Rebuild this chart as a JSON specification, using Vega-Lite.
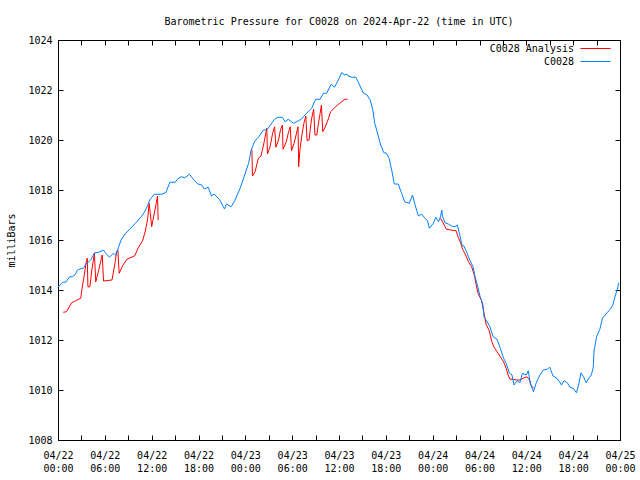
{
  "$schema": "https://vega.github.io/schema/vega-lite/v6.json",
  "width": 562,
  "height": 400,
  "autosize": "none",
  "padding": {"left": 58, "top": 40, "right": 20, "bottom": 40},
  "background": "white",
  "title": {"text": "Barometric Pressure for C0028 on 2024-Apr-22 (time in UTC)", "anchor": "middle", "frame": "group", "font": "DejaVu Sans Mono", "fontSize": 10, "fontWeight": "normal", "color": "black", "baseline": "alphabetic", "offset": 0},
  "config": {
    "view": {"stroke": "black", "strokeWidth": 1},
    "axis": {"grid": false, "domainColor": "black", "tickColor": "black", "labelColor": "black", "titleColor": "black", "labelFont": "DejaVu Sans Mono", "labelFontSize": 10, "titleFont": "DejaVu Sans Mono", "titleFontSize": 10, "titleFontWeight": "normal", "tickSize": -5, "tickWidth": 1, "domainWidth": 1},
    "legend": {"labelFont": "DejaVu Sans Mono", "labelFontSize": 10, "labelColor": "black"}
  },
  "data": {"values": [
    {"t":"2024-04-22T00:40:00Z","p":1013.11,"s":"C0028 Analysis","g":"a1"},
    {"t":"2024-04-22T01:05:00Z","p":1013.13,"s":"C0028 Analysis","g":"a1"},
    {"t":"2024-04-22T01:45:00Z","p":1013.49,"s":"C0028 Analysis","g":"a1"},
    {"t":"2024-04-22T02:15:00Z","p":1013.57,"s":"C0028 Analysis","g":"a1"},
    {"t":"2024-04-22T02:55:00Z","p":1013.67,"s":"C0028 Analysis","g":"a1"},
    {"t":"2024-04-22T03:05:00Z","p":1014.07,"s":"C0028 Analysis","g":"a1"},
    {"t":"2024-04-22T03:20:00Z","p":1014.53,"s":"C0028 Analysis","g":"a1"},
    {"t":"2024-04-22T03:35:00Z","p":1015.07,"s":"C0028 Analysis","g":"a1"},
    {"t":"2024-04-22T03:45:00Z","p":1015.27,"s":"C0028 Analysis","g":"a1"},
    {"t":"2024-04-22T03:50:00Z","p":1014.13,"s":"C0028 Analysis","g":"a1"},
    {"t":"2024-04-22T04:05:00Z","p":1014.13,"s":"C0028 Analysis","g":"a1"},
    {"t":"2024-04-22T04:20:00Z","p":1014.80,"s":"C0028 Analysis","g":"a1"},
    {"t":"2024-04-22T04:30:00Z","p":1015.13,"s":"C0028 Analysis","g":"a1"},
    {"t":"2024-04-22T04:40:00Z","p":1015.47,"s":"C0028 Analysis","g":"a1"},
    {"t":"2024-04-22T04:50:00Z","p":1014.33,"s":"C0028 Analysis","g":"a1"},
    {"t":"2024-04-22T05:10:00Z","p":1014.73,"s":"C0028 Analysis","g":"a1"},
    {"t":"2024-04-22T05:25:00Z","p":1015.07,"s":"C0028 Analysis","g":"a1"},
    {"t":"2024-04-22T05:40:00Z","p":1015.40,"s":"C0028 Analysis","g":"a1"},
    {"t":"2024-04-22T05:50:00Z","p":1014.36,"s":"C0028 Analysis","g":"a1"},
    {"t":"2024-04-22T06:55:00Z","p":1014.40,"s":"C0028 Analysis","g":"a1"},
    {"t":"2024-04-22T07:20:00Z","p":1015.13,"s":"C0028 Analysis","g":"a1"},
    {"t":"2024-04-22T07:30:00Z","p":1015.53,"s":"C0028 Analysis","g":"a1"},
    {"t":"2024-04-22T07:40:00Z","p":1015.60,"s":"C0028 Analysis","g":"a1"},
    {"t":"2024-04-22T07:50:00Z","p":1014.67,"s":"C0028 Analysis","g":"a1"},
    {"t":"2024-04-22T08:20:00Z","p":1015.00,"s":"C0028 Analysis","g":"a1"},
    {"t":"2024-04-22T08:50:00Z","p":1015.23,"s":"C0028 Analysis","g":"a1"},
    {"t":"2024-04-22T09:50:00Z","p":1015.37,"s":"C0028 Analysis","g":"a1"},
    {"t":"2024-04-22T10:15:00Z","p":1015.67,"s":"C0028 Analysis","g":"a1"},
    {"t":"2024-04-22T10:50:00Z","p":1015.97,"s":"C0028 Analysis","g":"a1"},
    {"t":"2024-04-22T11:10:00Z","p":1016.33,"s":"C0028 Analysis","g":"a1"},
    {"t":"2024-04-22T11:30:00Z","p":1016.87,"s":"C0028 Analysis","g":"a1"},
    {"t":"2024-04-22T11:40:00Z","p":1017.47,"s":"C0028 Analysis","g":"a1"},
    {"t":"2024-04-22T11:55:00Z","p":1016.80,"s":"C0028 Analysis","g":"a1"},
    {"t":"2024-04-22T12:00:00Z","p":1016.53,"s":"C0028 Analysis","g":"a1"},
    {"t":"2024-04-22T12:15:00Z","p":1016.93,"s":"C0028 Analysis","g":"a1"},
    {"t":"2024-04-22T12:35:00Z","p":1017.47,"s":"C0028 Analysis","g":"a1"},
    {"t":"2024-04-22T12:45:00Z","p":1017.76,"s":"C0028 Analysis","g":"a1"},
    {"t":"2024-04-22T12:50:00Z","p":1016.80,"s":"C0028 Analysis","g":"a1"},
    {"t":"2024-04-23T00:50:00Z","p":1019.63,"s":"C0028 Analysis","g":"a2"},
    {"t":"2024-04-23T00:55:00Z","p":1018.56,"s":"C0028 Analysis","g":"a2"},
    {"t":"2024-04-23T01:15:00Z","p":1018.73,"s":"C0028 Analysis","g":"a2"},
    {"t":"2024-04-23T01:40:00Z","p":1019.27,"s":"C0028 Analysis","g":"a2"},
    {"t":"2024-04-23T02:00:00Z","p":1019.36,"s":"C0028 Analysis","g":"a2"},
    {"t":"2024-04-23T02:20:00Z","p":1019.80,"s":"C0028 Analysis","g":"a2"},
    {"t":"2024-04-23T02:40:00Z","p":1020.33,"s":"C0028 Analysis","g":"a2"},
    {"t":"2024-04-23T02:45:00Z","p":1020.47,"s":"C0028 Analysis","g":"a2"},
    {"t":"2024-04-23T02:50:00Z","p":1019.44,"s":"C0028 Analysis","g":"a2"},
    {"t":"2024-04-23T03:10:00Z","p":1019.73,"s":"C0028 Analysis","g":"a2"},
    {"t":"2024-04-23T03:30:00Z","p":1020.27,"s":"C0028 Analysis","g":"a2"},
    {"t":"2024-04-23T03:45:00Z","p":1020.53,"s":"C0028 Analysis","g":"a2"},
    {"t":"2024-04-23T03:55:00Z","p":1019.71,"s":"C0028 Analysis","g":"a2"},
    {"t":"2024-04-23T04:15:00Z","p":1020.00,"s":"C0028 Analysis","g":"a2"},
    {"t":"2024-04-23T04:30:00Z","p":1020.40,"s":"C0028 Analysis","g":"a2"},
    {"t":"2024-04-23T04:45:00Z","p":1020.60,"s":"C0028 Analysis","g":"a2"},
    {"t":"2024-04-23T04:50:00Z","p":1019.63,"s":"C0028 Analysis","g":"a2"},
    {"t":"2024-04-23T05:15:00Z","p":1019.93,"s":"C0028 Analysis","g":"a2"},
    {"t":"2024-04-23T05:30:00Z","p":1020.27,"s":"C0028 Analysis","g":"a2"},
    {"t":"2024-04-23T05:45:00Z","p":1020.53,"s":"C0028 Analysis","g":"a2"},
    {"t":"2024-04-23T05:55:00Z","p":1019.57,"s":"C0028 Analysis","g":"a2"},
    {"t":"2024-04-23T06:15:00Z","p":1019.87,"s":"C0028 Analysis","g":"a2"},
    {"t":"2024-04-23T06:30:00Z","p":1020.20,"s":"C0028 Analysis","g":"a2"},
    {"t":"2024-04-23T06:45:00Z","p":1020.53,"s":"C0028 Analysis","g":"a2"},
    {"t":"2024-04-23T06:50:00Z","p":1018.93,"s":"C0028 Analysis","g":"a2"},
    {"t":"2024-04-23T07:00:00Z","p":1019.63,"s":"C0028 Analysis","g":"a2"},
    {"t":"2024-04-23T07:15:00Z","p":1020.20,"s":"C0028 Analysis","g":"a2"},
    {"t":"2024-04-23T07:30:00Z","p":1020.67,"s":"C0028 Analysis","g":"a2"},
    {"t":"2024-04-23T07:45:00Z","p":1020.96,"s":"C0028 Analysis","g":"a2"},
    {"t":"2024-04-23T07:55:00Z","p":1019.97,"s":"C0028 Analysis","g":"a2"},
    {"t":"2024-04-23T08:10:00Z","p":1020.00,"s":"C0028 Analysis","g":"a2"},
    {"t":"2024-04-23T08:20:00Z","p":1020.47,"s":"C0028 Analysis","g":"a2"},
    {"t":"2024-04-23T08:30:00Z","p":1020.87,"s":"C0028 Analysis","g":"a2"},
    {"t":"2024-04-23T08:45:00Z","p":1021.23,"s":"C0028 Analysis","g":"a2"},
    {"t":"2024-04-23T08:55:00Z","p":1020.20,"s":"C0028 Analysis","g":"a2"},
    {"t":"2024-04-23T09:10:00Z","p":1020.20,"s":"C0028 Analysis","g":"a2"},
    {"t":"2024-04-23T09:20:00Z","p":1020.60,"s":"C0028 Analysis","g":"a2"},
    {"t":"2024-04-23T09:35:00Z","p":1021.07,"s":"C0028 Analysis","g":"a2"},
    {"t":"2024-04-23T09:45:00Z","p":1021.40,"s":"C0028 Analysis","g":"a2"},
    {"t":"2024-04-23T09:55:00Z","p":1020.33,"s":"C0028 Analysis","g":"a2"},
    {"t":"2024-04-23T10:15:00Z","p":1020.53,"s":"C0028 Analysis","g":"a2"},
    {"t":"2024-04-23T10:40:00Z","p":1020.87,"s":"C0028 Analysis","g":"a2"},
    {"t":"2024-04-23T10:55:00Z","p":1021.13,"s":"C0028 Analysis","g":"a2"},
    {"t":"2024-04-23T11:30:00Z","p":1021.31,"s":"C0028 Analysis","g":"a2"},
    {"t":"2024-04-23T12:10:00Z","p":1021.49,"s":"C0028 Analysis","g":"a2"},
    {"t":"2024-04-23T12:45:00Z","p":1021.63,"s":"C0028 Analysis","g":"a2"},
    {"t":"2024-04-23T13:05:00Z","p":1021.63,"s":"C0028 Analysis","g":"a2"},
    {"t":"2024-04-24T01:00:00Z","p":1016.87,"s":"C0028 Analysis","g":"a3"},
    {"t":"2024-04-24T01:25:00Z","p":1016.64,"s":"C0028 Analysis","g":"a3"},
    {"t":"2024-04-24T01:45:00Z","p":1016.43,"s":"C0028 Analysis","g":"a3"},
    {"t":"2024-04-24T02:20:00Z","p":1016.40,"s":"C0028 Analysis","g":"a3"},
    {"t":"2024-04-24T03:00:00Z","p":1016.37,"s":"C0028 Analysis","g":"a3"},
    {"t":"2024-04-24T03:15:00Z","p":1016.13,"s":"C0028 Analysis","g":"a3"},
    {"t":"2024-04-24T03:35:00Z","p":1015.89,"s":"C0028 Analysis","g":"a3"},
    {"t":"2024-04-24T03:50:00Z","p":1015.63,"s":"C0028 Analysis","g":"a3"},
    {"t":"2024-04-24T04:10:00Z","p":1015.44,"s":"C0028 Analysis","g":"a3"},
    {"t":"2024-04-24T04:35:00Z","p":1015.13,"s":"C0028 Analysis","g":"a3"},
    {"t":"2024-04-24T05:00:00Z","p":1014.93,"s":"C0028 Analysis","g":"a3"},
    {"t":"2024-04-24T05:20:00Z","p":1014.60,"s":"C0028 Analysis","g":"a3"},
    {"t":"2024-04-24T05:35:00Z","p":1014.20,"s":"C0028 Analysis","g":"a3"},
    {"t":"2024-04-24T05:50:00Z","p":1013.84,"s":"C0028 Analysis","g":"a3"},
    {"t":"2024-04-24T06:15:00Z","p":1013.60,"s":"C0028 Analysis","g":"a3"},
    {"t":"2024-04-24T06:35:00Z","p":1013.07,"s":"C0028 Analysis","g":"a3"},
    {"t":"2024-04-24T06:50:00Z","p":1012.64,"s":"C0028 Analysis","g":"a3"},
    {"t":"2024-04-24T07:15:00Z","p":1012.37,"s":"C0028 Analysis","g":"a3"},
    {"t":"2024-04-24T07:35:00Z","p":1011.93,"s":"C0028 Analysis","g":"a3"},
    {"t":"2024-04-24T07:50:00Z","p":1011.73,"s":"C0028 Analysis","g":"a3"},
    {"t":"2024-04-24T08:15:00Z","p":1011.53,"s":"C0028 Analysis","g":"a3"},
    {"t":"2024-04-24T08:40:00Z","p":1011.33,"s":"C0028 Analysis","g":"a3"},
    {"t":"2024-04-24T09:05:00Z","p":1011.13,"s":"C0028 Analysis","g":"a3"},
    {"t":"2024-04-24T09:25:00Z","p":1010.87,"s":"C0028 Analysis","g":"a3"},
    {"t":"2024-04-24T09:40:00Z","p":1010.60,"s":"C0028 Analysis","g":"a3"},
    {"t":"2024-04-24T09:55:00Z","p":1010.43,"s":"C0028 Analysis","g":"a3"},
    {"t":"2024-04-24T10:20:00Z","p":1010.43,"s":"C0028 Analysis","g":"a3"},
    {"t":"2024-04-24T10:45:00Z","p":1010.40,"s":"C0028 Analysis","g":"a3"},
    {"t":"2024-04-24T11:10:00Z","p":1010.40,"s":"C0028 Analysis","g":"a3"},
    {"t":"2024-04-24T11:35:00Z","p":1010.47,"s":"C0028 Analysis","g":"a3"},
    {"t":"2024-04-24T12:05:00Z","p":1010.53,"s":"C0028 Analysis","g":"a3"},
    {"t":"2024-04-24T12:25:00Z","p":1010.40,"s":"C0028 Analysis","g":"a3"},
    {"t":"2024-04-24T12:35:00Z","p":1010.20,"s":"C0028 Analysis","g":"a3"},
    {"t":"2024-04-24T12:55:00Z","p":1010.07,"s":"C0028 Analysis","g":"a3"},
    {"t":"2024-04-22T00:00:00Z","p":1014.11,"s":"C0028","g":"b"},
    {"t":"2024-04-22T00:35:00Z","p":1014.31,"s":"C0028","g":"b"},
    {"t":"2024-04-22T01:00:00Z","p":1014.31,"s":"C0028","g":"b"},
    {"t":"2024-04-22T01:30:00Z","p":1014.53,"s":"C0028","g":"b"},
    {"t":"2024-04-22T01:50:00Z","p":1014.53,"s":"C0028","g":"b"},
    {"t":"2024-04-22T02:10:00Z","p":1014.60,"s":"C0028","g":"b"},
    {"t":"2024-04-22T02:30:00Z","p":1014.80,"s":"C0028","g":"b"},
    {"t":"2024-04-22T02:55:00Z","p":1014.85,"s":"C0028","g":"b"},
    {"t":"2024-04-22T03:15:00Z","p":1014.87,"s":"C0028","g":"b"},
    {"t":"2024-04-22T03:35:00Z","p":1015.04,"s":"C0028","g":"b"},
    {"t":"2024-04-22T03:55:00Z","p":1015.12,"s":"C0028","g":"b"},
    {"t":"2024-04-22T04:15:00Z","p":1015.23,"s":"C0028","g":"b"},
    {"t":"2024-04-22T04:40:00Z","p":1015.49,"s":"C0028","g":"b"},
    {"t":"2024-04-22T05:10:00Z","p":1015.51,"s":"C0028","g":"b"},
    {"t":"2024-04-22T05:50:00Z","p":1015.59,"s":"C0028","g":"b"},
    {"t":"2024-04-22T06:05:00Z","p":1015.49,"s":"C0028","g":"b"},
    {"t":"2024-04-22T06:35:00Z","p":1015.31,"s":"C0028","g":"b"},
    {"t":"2024-04-22T07:05:00Z","p":1015.47,"s":"C0028","g":"b"},
    {"t":"2024-04-22T07:25:00Z","p":1015.39,"s":"C0028","g":"b"},
    {"t":"2024-04-22T07:45:00Z","p":1015.71,"s":"C0028","g":"b"},
    {"t":"2024-04-22T08:05:00Z","p":1016.00,"s":"C0028","g":"b"},
    {"t":"2024-04-22T08:35:00Z","p":1016.24,"s":"C0028","g":"b"},
    {"t":"2024-04-22T09:05:00Z","p":1016.40,"s":"C0028","g":"b"},
    {"t":"2024-04-22T09:30:00Z","p":1016.53,"s":"C0028","g":"b"},
    {"t":"2024-04-22T09:55:00Z","p":1016.67,"s":"C0028","g":"b"},
    {"t":"2024-04-22T10:40:00Z","p":1016.93,"s":"C0028","g":"b"},
    {"t":"2024-04-22T11:05:00Z","p":1017.12,"s":"C0028","g":"b"},
    {"t":"2024-04-22T11:30:00Z","p":1017.39,"s":"C0028","g":"b"},
    {"t":"2024-04-22T11:45:00Z","p":1017.60,"s":"C0028","g":"b"},
    {"t":"2024-04-22T12:20:00Z","p":1017.83,"s":"C0028","g":"b"},
    {"t":"2024-04-22T13:20:00Z","p":1017.83,"s":"C0028","g":"b"},
    {"t":"2024-04-22T13:50:00Z","p":1017.91,"s":"C0028","g":"b"},
    {"t":"2024-04-22T14:20:00Z","p":1018.31,"s":"C0028","g":"b"},
    {"t":"2024-04-22T15:00:00Z","p":1018.31,"s":"C0028","g":"b"},
    {"t":"2024-04-22T15:25:00Z","p":1018.47,"s":"C0028","g":"b"},
    {"t":"2024-04-22T15:50:00Z","p":1018.53,"s":"C0028","g":"b"},
    {"t":"2024-04-22T16:15:00Z","p":1018.49,"s":"C0028","g":"b"},
    {"t":"2024-04-22T16:50:00Z","p":1018.63,"s":"C0028","g":"b"},
    {"t":"2024-04-22T17:30:00Z","p":1018.37,"s":"C0028","g":"b"},
    {"t":"2024-04-22T17:55:00Z","p":1018.24,"s":"C0028","g":"b"},
    {"t":"2024-04-22T18:25:00Z","p":1018.20,"s":"C0028","g":"b"},
    {"t":"2024-04-22T18:45:00Z","p":1018.04,"s":"C0028","g":"b"},
    {"t":"2024-04-22T19:15:00Z","p":1018.11,"s":"C0028","g":"b"},
    {"t":"2024-04-22T19:40:00Z","p":1017.76,"s":"C0028","g":"b"},
    {"t":"2024-04-22T20:00:00Z","p":1017.84,"s":"C0028","g":"b"},
    {"t":"2024-04-22T20:40:00Z","p":1017.63,"s":"C0028","g":"b"},
    {"t":"2024-04-22T21:20:00Z","p":1017.24,"s":"C0028","g":"b"},
    {"t":"2024-04-22T21:35:00Z","p":1017.44,"s":"C0028","g":"b"},
    {"t":"2024-04-22T22:10:00Z","p":1017.33,"s":"C0028","g":"b"},
    {"t":"2024-04-22T22:35:00Z","p":1017.53,"s":"C0028","g":"b"},
    {"t":"2024-04-22T23:20:00Z","p":1018.07,"s":"C0028","g":"b"},
    {"t":"2024-04-22T23:55:00Z","p":1018.60,"s":"C0028","g":"b"},
    {"t":"2024-04-23T00:25:00Z","p":1019.07,"s":"C0028","g":"b"},
    {"t":"2024-04-23T00:45:00Z","p":1019.60,"s":"C0028","g":"b"},
    {"t":"2024-04-23T01:10:00Z","p":1019.93,"s":"C0028","g":"b"},
    {"t":"2024-04-23T01:40:00Z","p":1020.11,"s":"C0028","g":"b"},
    {"t":"2024-04-23T02:20:00Z","p":1020.40,"s":"C0028","g":"b"},
    {"t":"2024-04-23T02:45:00Z","p":1020.40,"s":"C0028","g":"b"},
    {"t":"2024-04-23T03:45:00Z","p":1020.83,"s":"C0028","g":"b"},
    {"t":"2024-04-23T04:10:00Z","p":1020.91,"s":"C0028","g":"b"},
    {"t":"2024-04-23T04:45:00Z","p":1020.91,"s":"C0028","g":"b"},
    {"t":"2024-04-23T05:05:00Z","p":1020.73,"s":"C0028","g":"b"},
    {"t":"2024-04-23T05:30:00Z","p":1020.83,"s":"C0028","g":"b"},
    {"t":"2024-04-23T06:10:00Z","p":1020.67,"s":"C0028","g":"b"},
    {"t":"2024-04-23T06:35:00Z","p":1020.73,"s":"C0028","g":"b"},
    {"t":"2024-04-23T07:10:00Z","p":1020.83,"s":"C0028","g":"b"},
    {"t":"2024-04-23T07:50:00Z","p":1021.07,"s":"C0028","g":"b"},
    {"t":"2024-04-23T08:30:00Z","p":1021.27,"s":"C0028","g":"b"},
    {"t":"2024-04-23T09:00:00Z","p":1021.63,"s":"C0028","g":"b"},
    {"t":"2024-04-23T09:35:00Z","p":1021.63,"s":"C0028","g":"b"},
    {"t":"2024-04-23T10:00:00Z","p":1021.87,"s":"C0028","g":"b"},
    {"t":"2024-04-23T10:25:00Z","p":1021.87,"s":"C0028","g":"b"},
    {"t":"2024-04-23T11:00:00Z","p":1022.23,"s":"C0028","g":"b"},
    {"t":"2024-04-23T11:25:00Z","p":1022.11,"s":"C0028","g":"b"},
    {"t":"2024-04-23T11:55:00Z","p":1022.40,"s":"C0028","g":"b"},
    {"t":"2024-04-23T12:20:00Z","p":1022.69,"s":"C0028","g":"b"},
    {"t":"2024-04-23T12:45:00Z","p":1022.60,"s":"C0028","g":"b"},
    {"t":"2024-04-23T13:00:00Z","p":1022.64,"s":"C0028","g":"b"},
    {"t":"2024-04-23T13:10:00Z","p":1022.56,"s":"C0028","g":"b"},
    {"t":"2024-04-23T13:40:00Z","p":1022.51,"s":"C0028","g":"b"},
    {"t":"2024-04-23T14:10:00Z","p":1022.51,"s":"C0028","g":"b"},
    {"t":"2024-04-23T14:35:00Z","p":1022.24,"s":"C0028","g":"b"},
    {"t":"2024-04-23T15:05:00Z","p":1021.89,"s":"C0028","g":"b"},
    {"t":"2024-04-23T15:35:00Z","p":1021.80,"s":"C0028","g":"b"},
    {"t":"2024-04-23T16:00:00Z","p":1021.60,"s":"C0028","g":"b"},
    {"t":"2024-04-23T16:20:00Z","p":1021.20,"s":"C0028","g":"b"},
    {"t":"2024-04-23T16:35:00Z","p":1020.67,"s":"C0028","g":"b"},
    {"t":"2024-04-23T17:00:00Z","p":1020.20,"s":"C0028","g":"b"},
    {"t":"2024-04-23T17:20:00Z","p":1019.80,"s":"C0028","g":"b"},
    {"t":"2024-04-23T17:45:00Z","p":1019.49,"s":"C0028","g":"b"},
    {"t":"2024-04-23T18:05:00Z","p":1019.47,"s":"C0028","g":"b"},
    {"t":"2024-04-23T18:25:00Z","p":1019.27,"s":"C0028","g":"b"},
    {"t":"2024-04-23T18:45:00Z","p":1018.80,"s":"C0028","g":"b"},
    {"t":"2024-04-23T19:05:00Z","p":1018.24,"s":"C0028","g":"b"},
    {"t":"2024-04-23T19:35:00Z","p":1018.24,"s":"C0028","g":"b"},
    {"t":"2024-04-23T20:00:00Z","p":1017.89,"s":"C0028","g":"b"},
    {"t":"2024-04-23T20:25:00Z","p":1017.53,"s":"C0028","g":"b"},
    {"t":"2024-04-23T21:00:00Z","p":1017.47,"s":"C0028","g":"b"},
    {"t":"2024-04-23T21:25:00Z","p":1017.80,"s":"C0028","g":"b"},
    {"t":"2024-04-23T21:45:00Z","p":1017.40,"s":"C0028","g":"b"},
    {"t":"2024-04-23T22:10:00Z","p":1016.96,"s":"C0028","g":"b"},
    {"t":"2024-04-23T22:35:00Z","p":1017.04,"s":"C0028","g":"b"},
    {"t":"2024-04-23T22:55:00Z","p":1016.91,"s":"C0028","g":"b"},
    {"t":"2024-04-23T23:20:00Z","p":1016.77,"s":"C0028","g":"b"},
    {"t":"2024-04-23T23:35:00Z","p":1016.47,"s":"C0028","g":"b"},
    {"t":"2024-04-24T00:05:00Z","p":1016.67,"s":"C0028","g":"b"},
    {"t":"2024-04-24T00:25:00Z","p":1016.91,"s":"C0028","g":"b"},
    {"t":"2024-04-24T00:45:00Z","p":1016.73,"s":"C0028","g":"b"},
    {"t":"2024-04-24T01:00:00Z","p":1016.93,"s":"C0028","g":"b"},
    {"t":"2024-04-24T01:10:00Z","p":1017.20,"s":"C0028","g":"b"},
    {"t":"2024-04-24T01:15:00Z","p":1016.96,"s":"C0028","g":"b"},
    {"t":"2024-04-24T01:35:00Z","p":1016.69,"s":"C0028","g":"b"},
    {"t":"2024-04-24T02:00:00Z","p":1016.64,"s":"C0028","g":"b"},
    {"t":"2024-04-24T02:25:00Z","p":1016.56,"s":"C0028","g":"b"},
    {"t":"2024-04-24T02:50:00Z","p":1016.53,"s":"C0028","g":"b"},
    {"t":"2024-04-24T03:10:00Z","p":1016.60,"s":"C0028","g":"b"},
    {"t":"2024-04-24T03:25:00Z","p":1016.27,"s":"C0028","g":"b"},
    {"t":"2024-04-24T03:45:00Z","p":1015.80,"s":"C0028","g":"b"},
    {"t":"2024-04-24T04:00:00Z","p":1015.76,"s":"C0028","g":"b"},
    {"t":"2024-04-24T04:20:00Z","p":1015.53,"s":"C0028","g":"b"},
    {"t":"2024-04-24T04:45:00Z","p":1015.20,"s":"C0028","g":"b"},
    {"t":"2024-04-24T05:10:00Z","p":1014.93,"s":"C0028","g":"b"},
    {"t":"2024-04-24T05:25:00Z","p":1014.56,"s":"C0028","g":"b"},
    {"t":"2024-04-24T05:45:00Z","p":1014.16,"s":"C0028","g":"b"},
    {"t":"2024-04-24T06:05:00Z","p":1013.73,"s":"C0028","g":"b"},
    {"t":"2024-04-24T06:25:00Z","p":1013.44,"s":"C0028","g":"b"},
    {"t":"2024-04-24T06:35:00Z","p":1012.91,"s":"C0028","g":"b"},
    {"t":"2024-04-24T06:55:00Z","p":1012.77,"s":"C0028","g":"b"},
    {"t":"2024-04-24T07:20:00Z","p":1012.53,"s":"C0028","g":"b"},
    {"t":"2024-04-24T07:45:00Z","p":1012.13,"s":"C0028","g":"b"},
    {"t":"2024-04-24T08:15:00Z","p":1012.03,"s":"C0028","g":"b"},
    {"t":"2024-04-24T08:40:00Z","p":1011.67,"s":"C0028","g":"b"},
    {"t":"2024-04-24T09:05:00Z","p":1011.27,"s":"C0028","g":"b"},
    {"t":"2024-04-24T09:25:00Z","p":1011.07,"s":"C0028","g":"b"},
    {"t":"2024-04-24T09:50:00Z","p":1010.67,"s":"C0028","g":"b"},
    {"t":"2024-04-24T10:10:00Z","p":1010.60,"s":"C0028","g":"b"},
    {"t":"2024-04-24T10:25:00Z","p":1010.20,"s":"C0028","g":"b"},
    {"t":"2024-04-24T10:50:00Z","p":1010.37,"s":"C0028","g":"b"},
    {"t":"2024-04-24T11:10:00Z","p":1010.29,"s":"C0028","g":"b"},
    {"t":"2024-04-24T11:30:00Z","p":1010.67,"s":"C0028","g":"b"},
    {"t":"2024-04-24T12:00:00Z","p":1010.60,"s":"C0028","g":"b"},
    {"t":"2024-04-24T12:15:00Z","p":1010.77,"s":"C0028","g":"b"},
    {"t":"2024-04-24T12:30:00Z","p":1010.27,"s":"C0028","g":"b"},
    {"t":"2024-04-24T12:55:00Z","p":1009.93,"s":"C0028","g":"b"},
    {"t":"2024-04-24T13:15:00Z","p":1010.27,"s":"C0028","g":"b"},
    {"t":"2024-04-24T13:40:00Z","p":1010.56,"s":"C0028","g":"b"},
    {"t":"2024-04-24T14:10:00Z","p":1010.80,"s":"C0028","g":"b"},
    {"t":"2024-04-24T14:40:00Z","p":1010.83,"s":"C0028","g":"b"},
    {"t":"2024-04-24T15:00:00Z","p":1010.91,"s":"C0028","g":"b"},
    {"t":"2024-04-24T15:25:00Z","p":1010.56,"s":"C0028","g":"b"},
    {"t":"2024-04-24T15:55:00Z","p":1010.47,"s":"C0028","g":"b"},
    {"t":"2024-04-24T16:15:00Z","p":1010.33,"s":"C0028","g":"b"},
    {"t":"2024-04-24T16:30:00Z","p":1010.20,"s":"C0028","g":"b"},
    {"t":"2024-04-24T16:50:00Z","p":1010.37,"s":"C0028","g":"b"},
    {"t":"2024-04-24T17:15:00Z","p":1010.29,"s":"C0028","g":"b"},
    {"t":"2024-04-24T17:35:00Z","p":1010.11,"s":"C0028","g":"b"},
    {"t":"2024-04-24T18:00:00Z","p":1010.07,"s":"C0028","g":"b"},
    {"t":"2024-04-24T18:25:00Z","p":1009.89,"s":"C0028","g":"b"},
    {"t":"2024-04-24T18:45:00Z","p":1010.27,"s":"C0028","g":"b"},
    {"t":"2024-04-24T19:00:00Z","p":1010.69,"s":"C0028","g":"b"},
    {"t":"2024-04-24T19:20:00Z","p":1010.53,"s":"C0028","g":"b"},
    {"t":"2024-04-24T19:40:00Z","p":1010.29,"s":"C0028","g":"b"},
    {"t":"2024-04-24T20:05:00Z","p":1010.51,"s":"C0028","g":"b"},
    {"t":"2024-04-24T20:20:00Z","p":1010.60,"s":"C0028","g":"b"},
    {"t":"2024-04-24T20:35:00Z","p":1010.93,"s":"C0028","g":"b"},
    {"t":"2024-04-24T20:40:00Z","p":1011.53,"s":"C0028","g":"b"},
    {"t":"2024-04-24T21:00:00Z","p":1012.13,"s":"C0028","g":"b"},
    {"t":"2024-04-24T21:25:00Z","p":1012.43,"s":"C0028","g":"b"},
    {"t":"2024-04-24T21:45:00Z","p":1012.87,"s":"C0028","g":"b"},
    {"t":"2024-04-24T22:20:00Z","p":1013.09,"s":"C0028","g":"b"},
    {"t":"2024-04-24T22:45:00Z","p":1013.23,"s":"C0028","g":"b"},
    {"t":"2024-04-24T23:05:00Z","p":1013.40,"s":"C0028","g":"b"},
    {"t":"2024-04-24T23:20:00Z","p":1013.71,"s":"C0028","g":"b"},
    {"t":"2024-04-24T23:40:00Z","p":1014.03,"s":"C0028","g":"b"},
    {"t":"2024-04-24T23:50:00Z","p":1014.29,"s":"C0028","g":"b"}
  ]},
  "layer": [
    {
      "mark": {"type": "line", "strokeWidth": 1, "interpolate": "linear"},
      "encoding": {
        "x": {"field": "t", "type": "temporal",
          "scale": {"type": "utc", "nice": false, "domain": [{"year": 2024, "month": 4, "date": 22, "utc": true}, {"year": 2024, "month": 4, "date": 25, "utc": true}]},
          "axis": {"orient": "bottom", "title": null,
            "values": [
              {"year": 2024, "month": 4, "date": 22, "hours": 0, "utc": true}, {"year": 2024, "month": 4, "date": 22, "hours": 3, "utc": true},
              {"year": 2024, "month": 4, "date": 22, "hours": 6, "utc": true}, {"year": 2024, "month": 4, "date": 22, "hours": 9, "utc": true},
              {"year": 2024, "month": 4, "date": 22, "hours": 12, "utc": true}, {"year": 2024, "month": 4, "date": 22, "hours": 15, "utc": true},
              {"year": 2024, "month": 4, "date": 22, "hours": 18, "utc": true}, {"year": 2024, "month": 4, "date": 22, "hours": 21, "utc": true},
              {"year": 2024, "month": 4, "date": 23, "hours": 0, "utc": true}, {"year": 2024, "month": 4, "date": 23, "hours": 3, "utc": true},
              {"year": 2024, "month": 4, "date": 23, "hours": 6, "utc": true}, {"year": 2024, "month": 4, "date": 23, "hours": 9, "utc": true},
              {"year": 2024, "month": 4, "date": 23, "hours": 12, "utc": true}, {"year": 2024, "month": 4, "date": 23, "hours": 15, "utc": true},
              {"year": 2024, "month": 4, "date": 23, "hours": 18, "utc": true}, {"year": 2024, "month": 4, "date": 23, "hours": 21, "utc": true},
              {"year": 2024, "month": 4, "date": 24, "hours": 0, "utc": true}, {"year": 2024, "month": 4, "date": 24, "hours": 3, "utc": true},
              {"year": 2024, "month": 4, "date": 24, "hours": 6, "utc": true}, {"year": 2024, "month": 4, "date": 24, "hours": 9, "utc": true},
              {"year": 2024, "month": 4, "date": 24, "hours": 12, "utc": true}, {"year": 2024, "month": 4, "date": 24, "hours": 15, "utc": true},
              {"year": 2024, "month": 4, "date": 24, "hours": 18, "utc": true}, {"year": 2024, "month": 4, "date": 24, "hours": 21, "utc": true},
              {"year": 2024, "month": 4, "date": 25, "hours": 0, "utc": true}
            ],
            "labelOverlap": false, "labelFlush": false, "labelBound": false, "labelPadding": 15, "labelLineHeight": 13, "labelAlign": "center",
            "labelExpr": "utchours(datum.value) % 6 == 0 ? [utcFormat(datum.value, '%m/%d'), utcFormat(datum.value, '%H:%M')] : ''"}},
        "y": {"field": "p", "type": "quantitative",
          "scale": {"domain": [1008, 1024], "nice": false, "zero": false},
          "axis": {"orient": "left", "values": [1008, 1010, 1012, 1014, 1016, 1018, 1020, 1022, 1024], "format": "d", "labelPadding": 11, "title": "milliBars", "titleX": -47, "titleY": 200, "titleAngle": -90, "titleAlign": "center", "titleBaseline": "middle"}},
        "color": {"field": "s", "type": "nominal",
          "scale": {"domain": ["C0028 Analysis", "C0028"], "range": ["#ff0000", "#0080ff"]},
          "legend": {"orient": "none", "legendX": 531, "legendY": 2, "title": null, "symbolType": "M-2.5,0H2.5", "symbolSize": 144, "symbolStrokeWidth": 1, "symbolFillColor": "transparent", "labelAlign": "right", "labelOffset": -28, "padding": 0, "rowPadding": 1, "labelLimit": 300}},
        "detail": {"field": "g"}
      }
    },
    {
      "mark": {"type": "line", "opacity": 0},
      "encoding": {
        "x": {"field": "t", "type": "temporal", "axis": {"orient": "top", "title": null, "labels": false,
            "values": [
              {"year": 2024, "month": 4, "date": 22, "hours": 0, "utc": true}, {"year": 2024, "month": 4, "date": 22, "hours": 3, "utc": true},
              {"year": 2024, "month": 4, "date": 22, "hours": 6, "utc": true}, {"year": 2024, "month": 4, "date": 22, "hours": 9, "utc": true},
              {"year": 2024, "month": 4, "date": 22, "hours": 12, "utc": true}, {"year": 2024, "month": 4, "date": 22, "hours": 15, "utc": true},
              {"year": 2024, "month": 4, "date": 22, "hours": 18, "utc": true}, {"year": 2024, "month": 4, "date": 22, "hours": 21, "utc": true},
              {"year": 2024, "month": 4, "date": 23, "hours": 0, "utc": true}, {"year": 2024, "month": 4, "date": 23, "hours": 3, "utc": true},
              {"year": 2024, "month": 4, "date": 23, "hours": 6, "utc": true}, {"year": 2024, "month": 4, "date": 23, "hours": 9, "utc": true},
              {"year": 2024, "month": 4, "date": 23, "hours": 12, "utc": true}, {"year": 2024, "month": 4, "date": 23, "hours": 15, "utc": true},
              {"year": 2024, "month": 4, "date": 23, "hours": 18, "utc": true}, {"year": 2024, "month": 4, "date": 23, "hours": 21, "utc": true},
              {"year": 2024, "month": 4, "date": 24, "hours": 0, "utc": true}, {"year": 2024, "month": 4, "date": 24, "hours": 3, "utc": true},
              {"year": 2024, "month": 4, "date": 24, "hours": 6, "utc": true}, {"year": 2024, "month": 4, "date": 24, "hours": 9, "utc": true},
              {"year": 2024, "month": 4, "date": 24, "hours": 12, "utc": true}, {"year": 2024, "month": 4, "date": 24, "hours": 15, "utc": true},
              {"year": 2024, "month": 4, "date": 24, "hours": 18, "utc": true}, {"year": 2024, "month": 4, "date": 24, "hours": 21, "utc": true},
              {"year": 2024, "month": 4, "date": 25, "hours": 0, "utc": true}
            ]}},
        "y": {"field": "p", "type": "quantitative", "axis": {"orient": "right", "title": null, "labels": false, "values": [1008, 1010, 1012, 1014, 1016, 1018, 1020, 1022, 1024]}},
        "detail": {"field": "g"}
      }
    }
  ],
  "resolve": {"axis": {"x": "independent", "y": "independent"}}
}
